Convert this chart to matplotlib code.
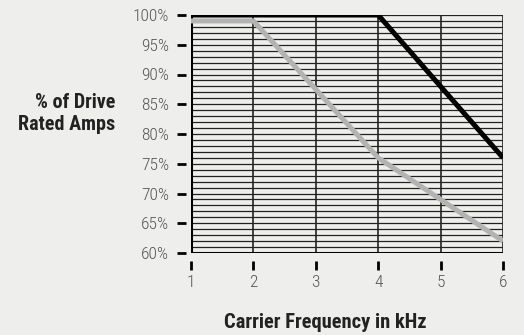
import matplotlib
matplotlib.use('Agg')
import matplotlib.pyplot as plt
from matplotlib import font_manager
import numpy as np

# Derating curves
freq_khz = [1, 2, 4, 5, 6]
black_curve = [100, 100, 100, 88, 76]
gray_curve = [99, 99, 76, 69, 62]

x_ticks = [1, 2, 3, 4, 5, 6]
y_ticks = [60, 65, 70, 75, 80, 85, 90, 95, 100]
y_tick_labels = ['60%', '65%', '70%', '75%', '80%', '85%', '90%', '95%', '100%']

bg = '#eeeeec'
names = {f.name for f in font_manager.fontManager.ttflist}
font = [n for n in ['Liberation Sans Narrow', 'Roboto Condensed', 'Liberation Sans'] if n in names] + ['DejaVu Sans']

fig = plt.figure(figsize=(5.24, 3.35), dpi=100, facecolor=bg)
ax = fig.add_axes([191 / 524, 1 - 253 / 335, 312 / 524, 238 / 335])
ax.set_facecolor(bg)

# grid: every 1% horizontally, every kHz vertically
for v in range(60, 101):
    ax.axhline(v, color='#222222', lw=0.9, zorder=1)
for f in x_ticks:
    ax.axvline(f, color='#222222', lw=1.2, zorder=1)
ax.axvline(1, color='black', lw=2.2, zorder=2)
ax.axhline(60, color='black', lw=2.2, zorder=2)

ax.plot(freq_khz, gray_curve, color='#b3b3b3', lw=3.6, zorder=3, solid_capstyle='butt')
ax.plot(freq_khz, black_curve, color='black', lw=3.6, zorder=4, solid_capstyle='butt')

ax.set_xlim(1, 6)
ax.set_ylim(60, 100)
for s in ax.spines.values():
    s.set_visible(False)
ax.spines['left'].set_position(('outward', 3.6))
ax.spines['bottom'].set_position(('outward', 5.5))

ax.set_xticks(x_ticks)
ax.set_yticks(y_ticks)
ax.set_yticklabels(y_tick_labels)
ax.tick_params(length=6.5, width=2, color='black', labelcolor='#555555', labelsize=12.5)
ax.tick_params(axis='y', pad=5.5)
ax.tick_params(axis='x', pad=4)
for lab in ax.get_xticklabels() + ax.get_yticklabels():
    lab.set_family(font)
    lab.set_fontweight('light')

fig.text(115 / 524, 1 - 114 / 335, '% of Drive\nRated Amps', ha='right', va='center',
         fontsize=14.5, fontweight='bold', color='#222222', family=font, linespacing=1.2)
fig.text(325 / 524, 1 - 322 / 335, 'Carrier Frequency in kHz', ha='center', va='center',
         fontsize=14.8, fontweight='bold', color='#222222', family=font)

fig.savefig('out.png', dpi=100, facecolor=bg)
